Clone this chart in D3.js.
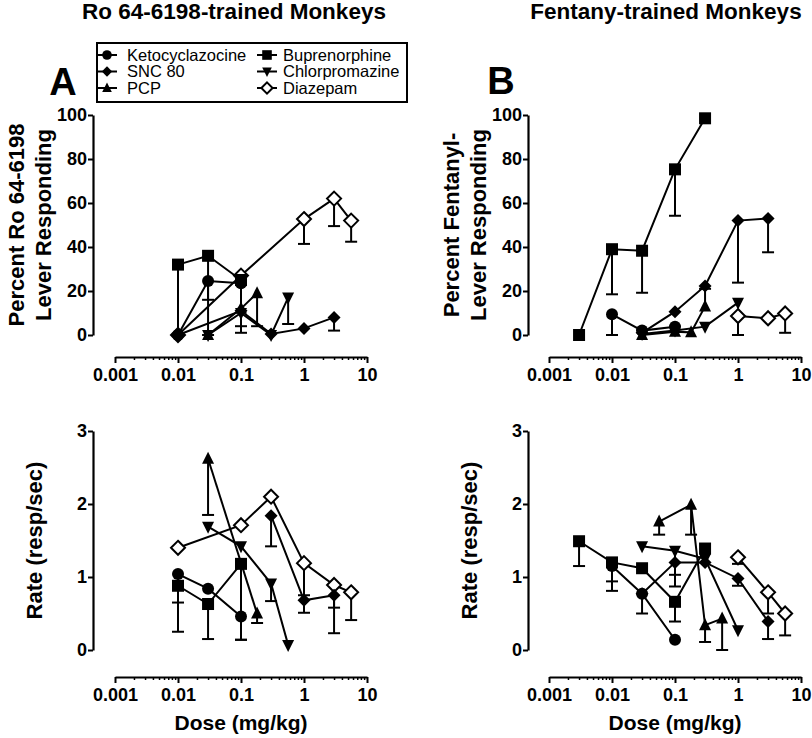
<!DOCTYPE html>
<html><head><meta charset="utf-8">
<script src="https://cdn.jsdelivr.net/npm/d3@7"></script>
<style>body{margin:0;background:#fff} text{font-family:Arial,"Liberation Sans",sans-serif;fill:#000}</style>
</head><body><svg id="c" width="812" height="738"></svg>
<script>
// ---------- data: [dose mg/kg, mean, error-bar end (null = none)] ----------
const drugs = ["Ketocyclazocine","SNC 80","PCP","Buprenorphine","Chlorpromazine","Diazepam"];
const doseTicks = [0.001, 0.01, 0.1, 1, 10];
const pctTicks = [0, 20, 40, 60, 80, 100];
const rateTicks = [0, 1, 2, 3];
const titles = ["Ro 64-6198-trained Monkeys", "Fentany-trained Monkeys"];

// Panel A top: percent Ro 64-6198 lever responding
const A_pct_keto = [[0.01,0,null],[0.03,24.5,16],[0.1,23.5,null]];
const A_pct_snc  = [[0.01,0,null],[0.1,11,null],[0.3,0.5,null],[1,3,null],[3,8,2]];
const A_pct_pcp  = [[0.03,0,null],[0.1,12,null],[0.18,19,4]];
const A_pct_bup  = [[0.01,32,0],[0.03,36,0],[0.1,25,1]];
const A_pct_chl  = [[0.03,0,null],[0.1,10,4],[0.3,0,null],[0.56,17,5]];
const A_pct_dia  = [[0.01,0,null],[0.1,27,null],[1,52.7,41.4],[3,62,49.5],[5.6,52,42.4]];
// Panel B top: percent fentanyl lever responding
const B_pct_keto = [[0.01,9.4,0],[0.03,2,null],[0.1,3.8,null]];
const B_pct_snc  = [[0.03,1,null],[0.1,10.6,null],[0.3,22.3,null],[1,52,23.8],[3,53,37.6]];
const B_pct_pcp  = [[0.03,0,null],[0.1,1.5,null],[0.18,1.2,null],[0.3,13,21]];
const B_pct_bup  = [[0.003,0,null],[0.01,39,18.5],[0.03,38.3,19.2],[0.1,75.3,54.2],[0.3,98.5,null]];
const B_pct_chl  = [[0.03,0.5,null],[0.1,2,null],[0.3,3.8,null],[1,14.7,null]];
const B_pct_dia  = [[1,8.6,0],[3,7.6,null],[5.6,9.8,1]];
// Panel A bottom: rate
const A_rate_keto = [[0.01,1.04,0.65],[0.03,0.84,null],[0.1,0.46,0.14]];
const A_rate_snc  = [[0.3,1.84,1.42],[1,0.68,0.51],[3,0.75,0.23]];
const A_rate_pcp  = [[0.03,2.62,1.85],[0.18,0.5,0.37]];
const A_rate_bup  = [[0.01,0.88,0.25],[0.03,0.63,0.15],[0.1,1.18,0.14]];
const A_rate_chl  = [[0.03,1.69,null],[0.1,1.42,null],[0.3,0.91,0.67],[0.56,0.07,null]];
const A_rate_dia  = [[0.01,1.4,null],[0.1,1.71,null],[0.3,2.1,null],[1,1.19,0.75],[3,0.89,0.58],[5.6,0.79,0.41]];
// Panel B bottom: rate
const B_rate_keto = [[0.01,1.15,0.81],[0.03,0.77,0.5],[0.1,0.14,null]];
const B_rate_snc  = [[0.03,0.77,null],[0.1,1.2,0.87],[0.3,1.2,null],[1,0.98,0.88],[3,0.39,0.15]];
const B_rate_pcp  = [[0.056,1.76,1.58],[0.18,1.99,1.58],[0.3,0.34,0.11],[0.56,0.43,0]];
const B_rate_bup  = [[0.003,1.49,1.15],[0.01,1.2,0.94],[0.03,1.12,null],[0.1,0.66,0.39],[0.3,1.39,null]];
const B_rate_chl  = [[0.03,1.42,null],[0.1,1.36,1.03],[0.3,1.25,null],[1,0.27,null]];
const B_rate_dia  = [[1,1.27,1.18],[3,0.79,0.5],[5.6,0.5,0.2]];

// ---------- drawing ----------
const svg = d3.select("#c");
const shapes = ["circle","diamond","tri","square","tridown","odiamond"];
const markerOrder = [5, 0, 1, 2, 3, 4]; // open diamonds drawn underneath

function drawMarker(g, type, x, y, s) {
  s = s || 1;
  if (type === "circle") g.append("circle").attr("cx", x).attr("cy", y).attr("r", 6*s).attr("fill", "#000");
  else if (type === "square") g.append("rect").attr("x", x-6*s).attr("y", y-6*s).attr("width", 12*s).attr("height", 12*s).attr("fill", "#000");
  else if (type === "diamond") g.append("path").attr("d", `M${x},${y-6.5*s}L${x+6.5*s},${y}L${x},${y+6.5*s}L${x-6.5*s},${y}Z`).attr("fill", "#000");
  else if (type === "odiamond") g.append("path").attr("d", `M${x},${y-7*s}L${x+7*s},${y}L${x},${y+7*s}L${x-7*s},${y}Z`).attr("fill", "#fff").attr("stroke", "#000").attr("stroke-width", 2);
  else if (type === "tri") g.append("path").attr("d", `M${x},${y-7*s}L${x+6*s},${y+5*s}L${x-6*s},${y+5*s}Z`).attr("fill", "#000");
  else if (type === "tridown") g.append("path").attr("d", `M${x},${y+7*s}L${x+6*s},${y-5*s}L${x-6*s},${y-5*s}Z`).attr("fill", "#000");
}

function panel(cfg) {
  const g = svg.append("g");
  const x = d3.scaleLog().domain([0.001, 10]).range([cfg.xl, cfg.xl + 252]);
  const y = d3.scaleLinear().domain(cfg.yDomain).range([cfg.yBottom, cfg.yTop]);
  // y axis
  const ya = g.append("g").attr("transform", `translate(${cfg.yAxisX},0)`)
    .call(d3.axisLeft(y).tickValues(cfg.yTicks).tickSize(5).tickSizeOuter(0).tickPadding(1).tickFormat(d3.format("d")));
  ya.select(".domain").attr("stroke-width", 2.2);
  ya.selectAll(".tick line").attr("stroke-width", 2);
  ya.selectAll("text").attr("font-size", 18).attr("font-weight", "bold").attr("font-family", "Arial, 'Liberation Sans', sans-serif");
  // x axis
  const minor = [];
  for (let e = -3; e < 1; e++) for (let m = 2; m <= 9; m++) minor.push(m * Math.pow(10, e));
  const xa = g.append("g").attr("transform", `translate(0,${cfg.xAxisY})`);
  xa.call(d3.axisBottom(x).tickValues(minor).tickSize(3).tickSizeOuter(0).tickFormat(""));
  xa.selectAll(".tick line").attr("stroke-width", 1.5);
  const xb = g.append("g").attr("transform", `translate(0,${cfg.xAxisY})`)
    .call(d3.axisBottom(x).tickValues(doseTicks).tickSize(6).tickSizeOuter(0).tickPadding(5).tickFormat(d => String(d)));
  xb.select(".domain").attr("stroke-width", 2.2);
  xa.select(".domain").remove();
  xb.selectAll(".tick line").attr("stroke-width", 2);
  xb.selectAll("text").attr("font-size", 18).attr("font-weight", "bold").attr("font-family", "Arial, 'Liberation Sans', sans-serif");
  // series lines and error bars
  cfg.series.forEach((ser) => {
    const sg = g.append("g");
    sg.append("path").datum(ser)
      .attr("d", d3.line().x(d => x(d[0])).y(d => y(d[1])))
      .attr("fill", "none").attr("stroke", "#000").attr("stroke-width", 2);
    ser.filter(d => d[2] !== null).forEach(d => {
      sg.append("line").attr("x1", x(d[0])).attr("x2", x(d[0])).attr("y1", y(d[1])).attr("y2", y(d[2]))
        .attr("stroke", "#000").attr("stroke-width", 2);
      sg.append("line").attr("x1", x(d[0]) - 6).attr("x2", x(d[0]) + 6).attr("y1", y(d[2])).attr("y2", y(d[2]))
        .attr("stroke", "#000").attr("stroke-width", 2);
    });
  });
  // markers
  markerOrder.forEach(i => {
    const sg = g.append("g");
    cfg.series[i].forEach(d => drawMarker(sg, shapes[i], x(d[0]), y(d[1])));
  });
  // y label
  cfg.ylab.forEach((t, k) => {
    g.append("text").attr("transform", `translate(${cfg.yAxisX - cfg.ylabOff[k]},${(cfg.yTop + cfg.yBottom) / 2}) rotate(-90)`)
      .attr("text-anchor", "middle").attr("dy", "0.36em").attr("font-size", 22).attr("font-weight", "bold").text(t);
  });
  if (cfg.xlab) g.append("text").attr("x", x(0.1)).attr("y", 730).attr("text-anchor", "middle")
    .attr("font-size", 21).attr("font-weight", "bold").text(cfg.xlab);
}

panel({ xl: 115, yAxisX: 93, xAxisY: 357, yDomain: [0, 100], yTop: 115, yBottom: 335, yTicks: pctTicks,
  series: [A_pct_keto, A_pct_snc, A_pct_pcp, A_pct_bup, A_pct_chl, A_pct_dia],
  ylab: ["Percent Ro 64-6198", "Lever Responding"], ylabOff: [77, 50] });
panel({ xl: 549, yAxisX: 528, xAxisY: 357, yDomain: [0, 100], yTop: 115, yBottom: 335, yTicks: pctTicks,
  series: [B_pct_keto, B_pct_snc, B_pct_pcp, B_pct_bup, B_pct_chl, B_pct_dia],
  ylab: ["Percent Fentanyl-", "Lever Responding"], ylabOff: [77, 50] });
panel({ xl: 115, yAxisX: 93, xAxisY: 677, yDomain: [0, 3], yTop: 431, yBottom: 650, yTicks: rateTicks,
  series: [A_rate_keto, A_rate_snc, A_rate_pcp, A_rate_bup, A_rate_chl, A_rate_dia],
  ylab: ["Rate (resp/sec)"], ylabOff: [59], xlab: "Dose (mg/kg)" });
panel({ xl: 549, yAxisX: 528, xAxisY: 677, yDomain: [0, 3], yTop: 431, yBottom: 650, yTicks: rateTicks,
  series: [B_rate_keto, B_rate_snc, B_rate_pcp, B_rate_bup, B_rate_chl, B_rate_dia],
  ylab: ["Rate (resp/sec)"], ylabOff: [59], xlab: "Dose (mg/kg)" });

// titles and panel letters
svg.append("text").attr("x", 234).attr("y", 19).attr("text-anchor", "middle").attr("font-size", 22.5).attr("font-weight", "bold").text(titles[0]);
svg.append("text").attr("x", 666).attr("y", 19).attr("text-anchor", "middle").attr("font-size", 22.5).attr("font-weight", "bold").text(titles[1]);
svg.append("text").attr("x", 63).attr("y", 95).attr("text-anchor", "middle").attr("font-size", 38).attr("font-weight", "bold").text("A");
svg.append("text").attr("x", 501).attr("y", 94).attr("text-anchor", "middle").attr("font-size", 38).attr("font-weight", "bold").text("B");

// legend
const lg = svg.append("g");
lg.append("rect").attr("x", 97).attr("y", 43).attr("width", 310).attr("height", 59).attr("fill", "#fff").attr("stroke", "#000").attr("stroke-width", 2);
drugs.forEach((name, i) => {
  const col = Math.floor(i / 3), row = i % 3;
  const sx = col ? 267 : 107, ty = 55 + row * 16.5;
  lg.append("line").attr("x1", sx - 10).attr("x2", sx + 10).attr("y1", ty).attr("y2", ty).attr("stroke", "#000").attr("stroke-width", 2);
  drawMarker(lg, shapes[i], sx, ty, 0.8);
  lg.append("text").attr("x", col ? 283 : 127).attr("y", ty).attr("dy", "0.35em").attr("font-size", 16.5).text(name);
});
</script></body></html>
